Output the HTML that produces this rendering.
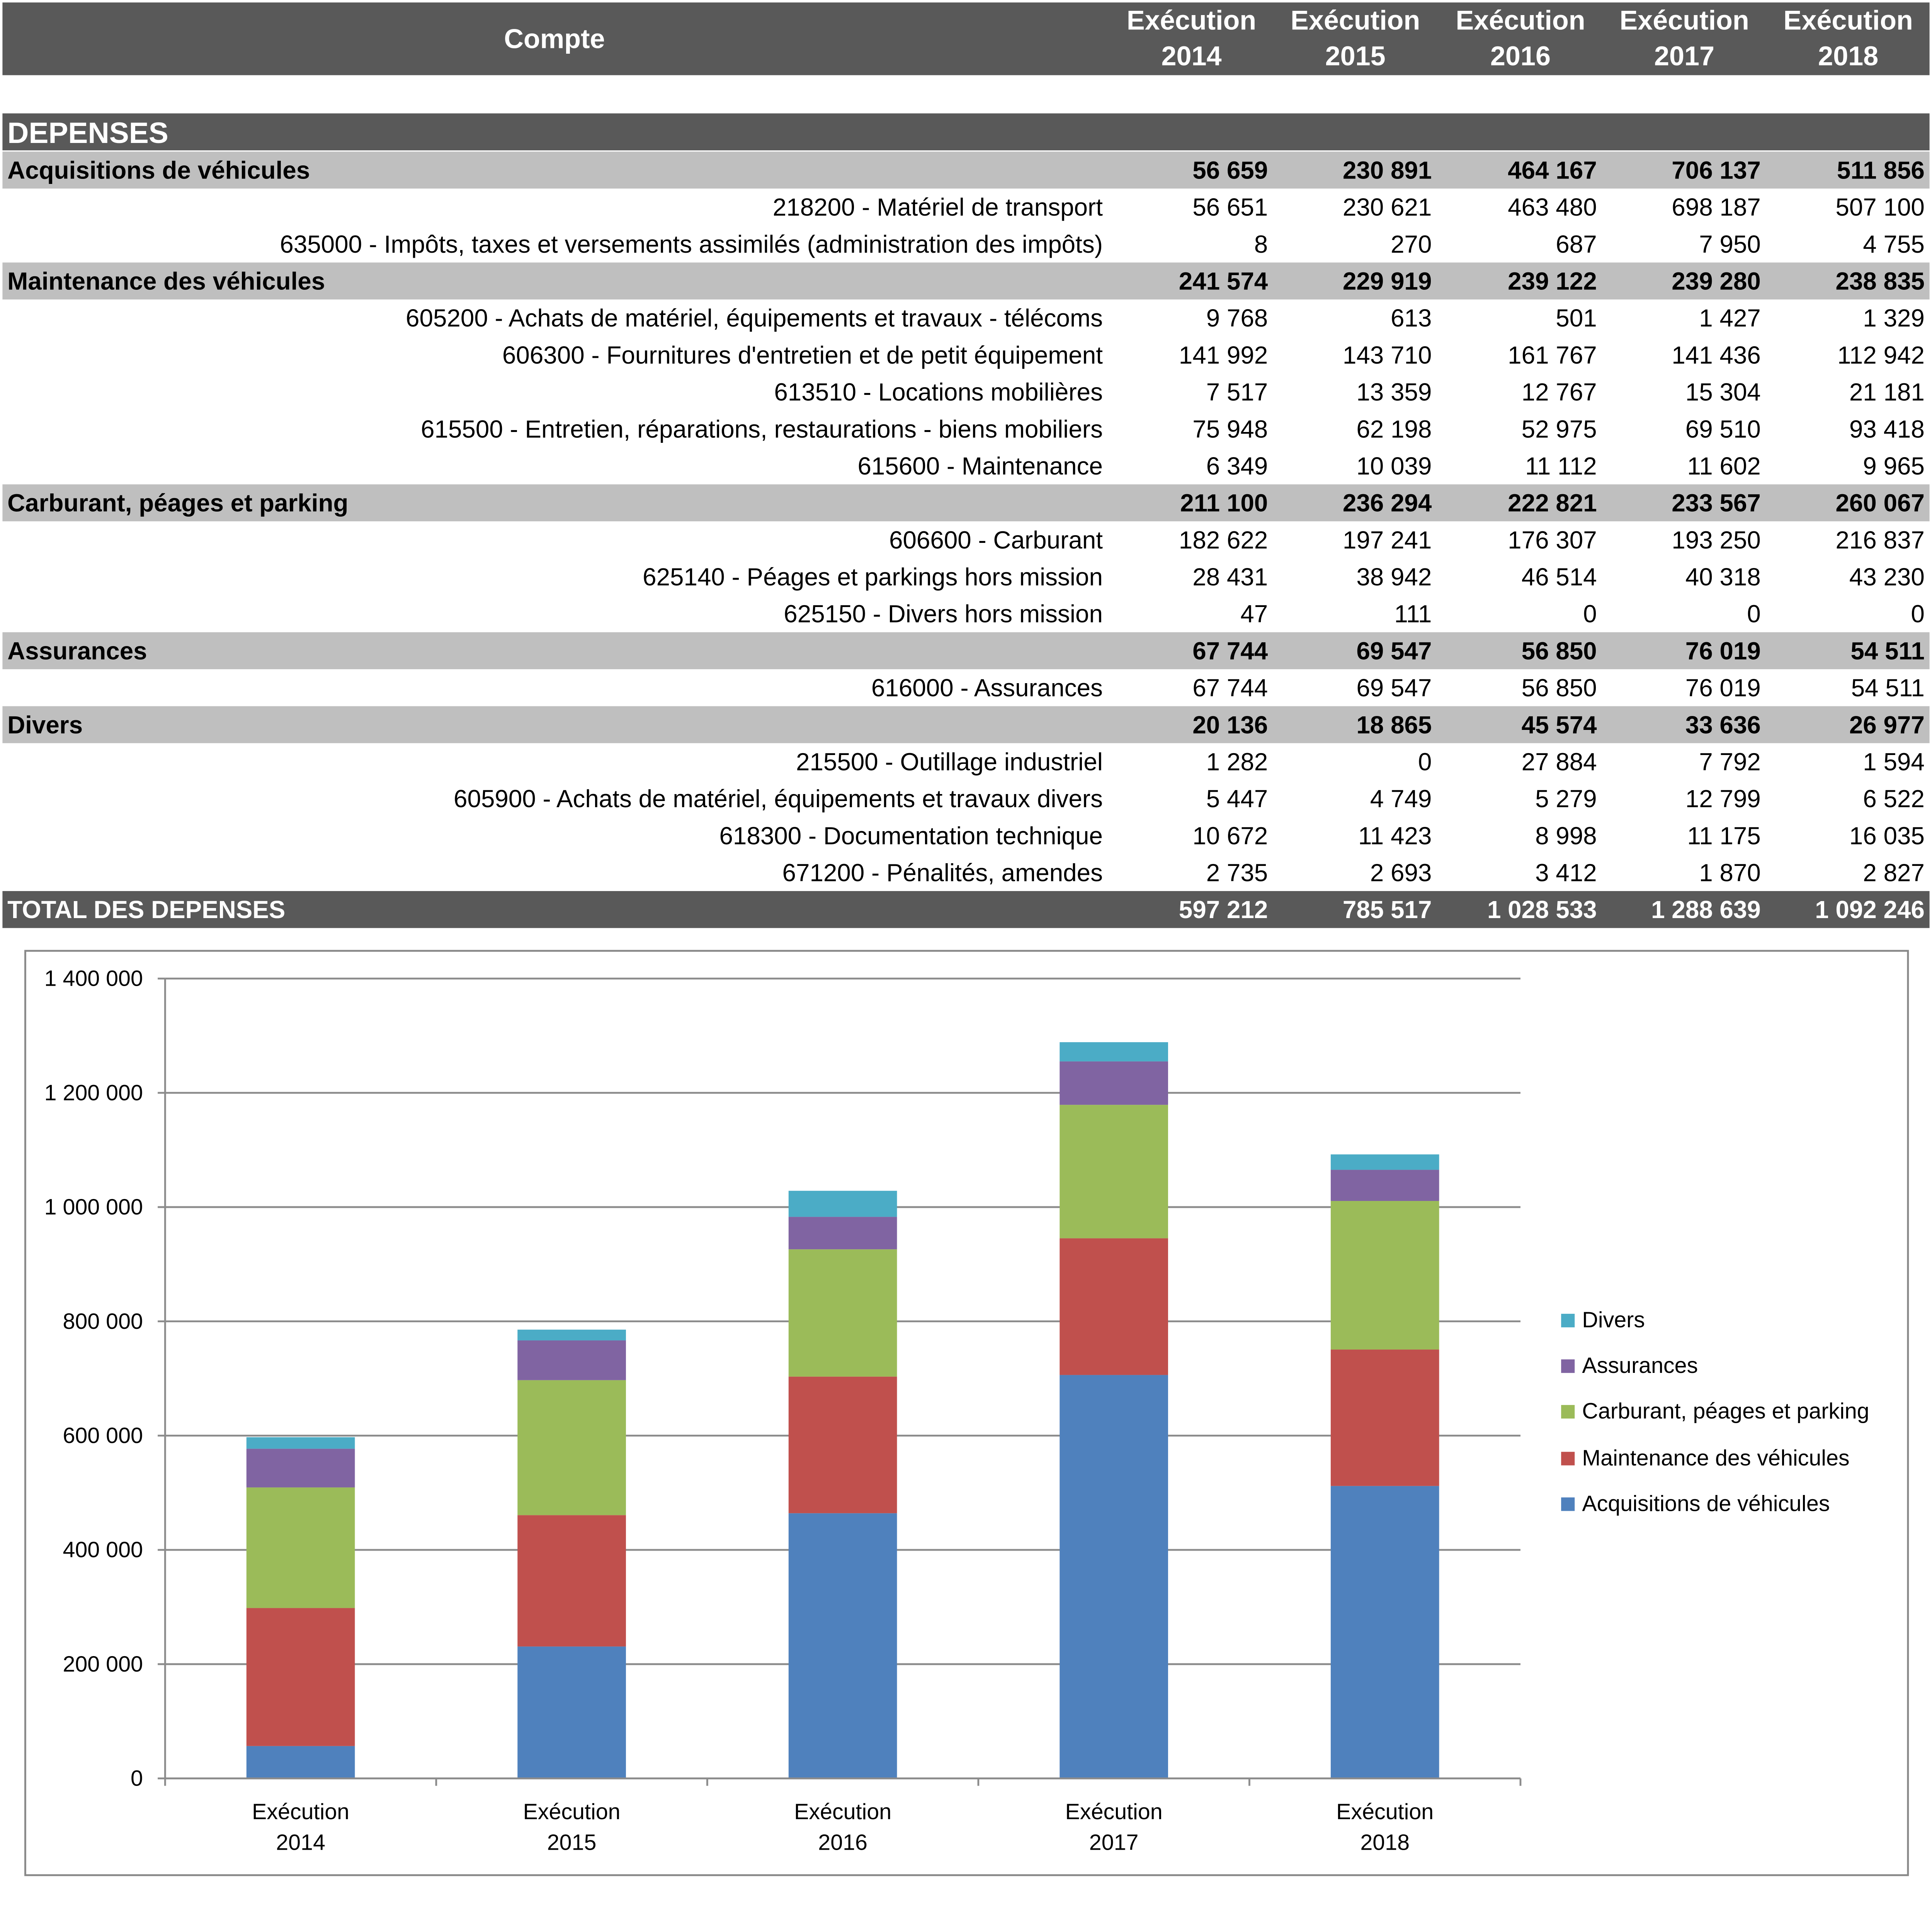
<!DOCTYPE html>
<html><head><meta charset="utf-8"><style>html,body{margin:0;padding:0;background:#fff;overflow:hidden}svg{display:block;position:absolute;left:0;top:0;width:100vw;height:97.9833vw}</style></head>
<body>
<svg id="root" xmlns="http://www.w3.org/2000/svg" viewBox="0 0 1568 1536" preserveAspectRatio="none" font-family="'Liberation Sans', sans-serif">
<rect x="0" y="0" width="1568" height="1536" fill="#fff"/>
<g id="table"></g>
<g id="chart"></g>
</svg>
<script>
const NS="http://www.w3.org/2000/svg";
const years=["2014","2015","2016","2017","2018"];
const rowLabels=["Acquisitions de véhicules","218200 - Matériel de transport","635000 - Impôts, taxes et versements assimilés (administration des impôts)","Maintenance des véhicules","605200 - Achats de matériel, équipements et travaux - télécoms","606300 - Fournitures d'entretien et de petit équipement","613510 - Locations mobilières","615500 - Entretien, réparations, restaurations - biens mobiliers","615600 - Maintenance","Carburant, péages et parking","606600 - Carburant","625140 - Péages et parkings hors mission","625150 - Divers hors mission","Assurances","616000 - Assurances","Divers","215500 - Outillage industriel","605900 - Achats de matériel, équipements et travaux divers","618300 - Documentation technique","671200 - Pénalités, amendes","TOTAL DES DEPENSES"];
const rowTypes=["g","d","d","g","d","d","d","d","d","g","d","d","d","g","d","g","d","d","d","d","t"];
const rowValues=[["56 659","230 891","464 167","706 137","511 856"],["56 651","230 621","463 480","698 187","507 100"],["8","270","687","7 950","4 755"],["241 574","229 919","239 122","239 280","238 835"],["9 768","613","501","1 427","1 329"],["141 992","143 710","161 767","141 436","112 942"],["7 517","13 359","12 767","15 304","21 181"],["75 948","62 198","52 975","69 510","93 418"],["6 349","10 039","11 112","11 602","9 965"],["211 100","236 294","222 821","233 567","260 067"],["182 622","197 241","176 307","193 250","216 837"],["28 431","38 942","46 514","40 318","43 230"],["47","111","0","0","0"],["67 744","69 547","56 850","76 019","54 511"],["67 744","69 547","56 850","76 019","54 511"],["20 136","18 865","45 574","33 636","26 977"],["1 282","0","27 884","7 792","1 594"],["5 447","4 749","5 279","12 799","6 522"],["10 672","11 423","8 998","11 175","16 035"],["2 735","2 693","3 412","1 870","2 827"],["597 212","785 517","1 028 533","1 288 639","1 092 246"]];
// chart data
const categories=["Exécution 2014","Exécution 2015","Exécution 2016","Exécution 2017","Exécution 2018"];
const seriesNames=["Acquisitions de véhicules","Maintenance des véhicules","Carburant, péages et parking","Assurances","Divers"];
const acquisitions=[56659,230891,464167,706137,511856];
const maintenance=[241574,229919,239122,239280,238835];
const carburant=[211100,236294,222821,233567,260067];
const assurances=[67744,69547,56850,76019,54511];
const divers=[20136,18865,45574,33636,26977];
const yTicks=[0,200000,400000,600000,800000,1000000,1200000,1400000];
const yTickLabels=["0","200 000","400 000","600 000","800 000","1 000 000","1 200 000","1 400 000"];
const series=[acquisitions,maintenance,carburant,assurances,divers];
const colors=["#4f81bd","#c0504d","#9bbb59","#8064a2","#4bacc6"];

function mk(tag,attrs,parent,text){const e=document.createElementNS(NS,tag);for(const k in attrs)e.setAttribute(k,attrs[k]);if(text!==undefined)e.textContent=text;parent.appendChild(e);return e;}

// TABLE
const T=document.getElementById('table');
const colX=[1029,1162,1296,1429,1562];
const hdrX=[967,1100,1234,1367,1500];
const FS=20;
let hb=mk('rect',{x:2,y:2,width:1564,height:59,fill:'#595959'},T);

let ht=mk('text',{x:450,y:39,'text-anchor':'middle',fill:'#fff','font-size':22,'font-weight':'bold'},T,'Compte');

years.forEach((y,i)=>{
  let t=mk('text',{x:hdrX[i],y:24,'text-anchor':'middle',fill:'#fff','font-size':22,'font-weight':'bold'},T);
  
  mk('tspan',{x:hdrX[i],y:24},t,'Exécution');mk('tspan',{x:hdrX[i],y:53},t,y);
});
let db=mk('rect',{x:2,y:92,width:1564,height:30,fill:'#595959'},T);

let dt=mk('text',{x:6,y:116,fill:'#fff','font-size':24,'font-weight':'bold'},T,'DEPENSES');

rowLabels.forEach((lab,r)=>{
  const y0=123+r*30, ty=y0+22, typ=rowTypes[r];
  const g=mk('g',{},T);
  
  
  if(typ!=='d') mk('rect',{x:2,y:y0,width:1564,height:30,fill:typ==='t'?'#595959':'#bfbfbf'},g);
  const fill=typ==='t'?'#fff':'#000', fw=typ==='d'?'normal':'bold';
  if(typ==='d') mk('text',{x:895,y:ty,'text-anchor':'end','font-size':FS,fill:fill},g,lab);
  else mk('text',{x:6,y:ty,'font-size':FS,'font-weight':fw,fill:fill},g,lab);
  rowValues[r].forEach((v,i)=>mk('text',{x:colX[i],y:ty,'text-anchor':'end','font-size':FS,'font-weight':fw,fill:fill},g,v));
});

// CHART
const C=document.getElementById('chart');
let fr=mk('rect',{x:20.5,y:771.5,width:1528,height:750,fill:'#fff',stroke:'#888','stroke-width':1.5},C);

const x0=134,x1=1234,yTop=794,yBot=1443,yMax=1400000;
const yS=v=>yBot-(v/yMax)*(yBot-yTop);
const band=(x1-x0)/categories.length;
const xC=i=>x0+band*(i+0.5);
const barW=88;
yTicks.forEach((v,i)=>{
  const y=yS(v);
  let gl=mk('line',{x1:x0,x2:x1,y1:y,y2:y,stroke:'#8c8c8c','stroke-width':1.5},C);
  
  mk('line',{x1:x0-6,x2:x0,y1:y,y2:y,stroke:'#8c8c8c','stroke-width':1.5},C);
  let tl=mk('text',{x:116,y:y+6,'text-anchor':'end','font-size':18},C,yTickLabels[i]);
  
});
let ya=mk('line',{x1:x0,x2:x0,y1:yTop,y2:yBot,stroke:'#8c8c8c','stroke-width':1.5},C);

for(let i=0;i<=categories.length;i++){mk('line',{x1:x0+band*i,x2:x0+band*i,y1:yBot,y2:yBot+6,stroke:'#8c8c8c','stroke-width':1.5},C);}
categories.forEach((c,i)=>{
  let base=0;
  series.forEach((s,k)=>{
    const v=s[i];
    let r=mk('rect',{x:xC(i)-barW/2,y:yS(base+v),width:barW,height:yS(base)-yS(base+v),fill:colors[k]},C);
    
    base+=v;
  });
  const parts=c.split(' ');
  let t=mk('text',{'text-anchor':'middle','font-size':18},C);
  
  mk('tspan',{x:xC(i),y:1476},t,parts[0]);mk('tspan',{x:xC(i),y:1501},t,parts[1]);
});
let xa=mk('line',{x1:x0,x2:x1,y1:yBot,y2:yBot,stroke:'#8c8c8c','stroke-width':1.5},C);

const legY=[1220,1183,1145,1108,1071];
seriesNames.forEach((n,k)=>{
  const g=mk('g',{},C);
  
  mk('rect',{x:1267,y:legY[k]-5,width:11,height:11,fill:colors[k]},g);
  mk('text',{x:1284,y:legY[k]+6,'font-size':18},g,n);
});
</script>
</body></html>
